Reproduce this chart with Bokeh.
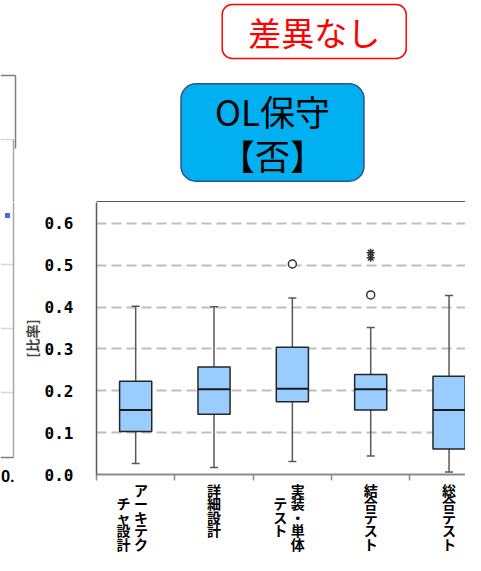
from bokeh.plotting import figure
from bokeh.models import (ColumnDataSource, FixedTicker, Range1d, Label,
                          LinearAxis, PrintfTickFormatter)
from bokeh.layouts import column, row
from bokeh.transform import dodge
from bokeh.embed import file_html
from bokeh.resources import INLINE

# ---------------- data ----------------
categories = ["アーキテクチャ設計", "詳細設計", "実装・単体テスト", "結合テスト", "総合テスト"]
# category labels laid out vertically (tategaki), rows top -> bottom
tick_labels = [
    "　   ア\nチ   ー\nャ   キ\n設   テ\n計   ク",
    "詳\n細\n設\n計",
    "　   実\nテ   装\nス   ・\nト   単\n　   体",
    "結\n合\nテ\nス\nト",
    "総\n合\nテ\nス\nト",
]
lower = [0.026, 0.017, 0.031, 0.044, 0.006]
q1 = [0.103, 0.144, 0.174, 0.154, 0.061]
median = [0.154, 0.204, 0.205, 0.204, 0.154]
q3 = [0.223, 0.257, 0.304, 0.239, 0.235]
upper = [0.402, 0.401, 0.422, 0.351, 0.428]

circle_cat = [2, 3]
circle_val = [0.503, 0.429]
star_cat = [3, 3]
star_val = [0.518, 0.530]

y_ticks = [0.0, 0.1, 0.2, 0.3, 0.4, 0.5, 0.6]
y_label = "[比率]"
badge_text = "差異なし"
group_text = "OL保守\n【否】"
neighbour_tick = "0."

# ---------------- top band (badges) ----------------
top_fig = figure(width=465, height=202, x_range=Range1d(0, 465), y_range=Range1d(202, 0),
                 x_axis_type=None, y_axis_type=None, output_backend="svg",
                 toolbar_location=None, min_border=0)
top_fig.outline_line_color = None
top_fig.grid.visible = False

# neighbouring chart fragment (left edge)
top_fig.segment(x0=[0, 15, 0, 13], y0=[75, 75, 139, 139], x1=[15, 15, 13, 13], y1=[75, 148, 139, 202],
                line_color=["#7f7f7f", "#7f7f7f", "#d9d9d9", "#a6a6a6"], line_width=1.5)
# top edge of the box-plot frame
top_fig.segment(x0=[96], y0=[201.2], x1=[465], y1=[201.2], line_color="#595959", line_width=1.5)

for lbl in [
    Label(x=316.5, y=35, text=badge_text, text_font="Noto Sans CJK JP", text_font_size="33px",
          text_alpha=0.0, text_align="center", text_baseline="middle",
          background_fill_color="#000000", background_fill_alpha=0.12,
          border_radius=10, padding=(26, 3)),
    Label(x=313.7, y=31, text=badge_text, text_font="Noto Sans CJK JP", text_font_size="33px",
          text_color="#ff0000", text_align="center", text_baseline="middle",
          background_fill_color="white", border_line_color="#ff0000",
          border_line_width=1.5, border_radius=10, padding=(26, 3)),
    Label(x=275, y=136, text=group_text, text_font="Noto Sans CJK JP", text_font_size="35px",
          text_alpha=0.0, text_align="center", text_baseline="middle", text_line_height=0.87,
          background_fill_color="#000000", background_fill_alpha=0.2,
          border_radius=15, padding=(34, 1)),
    Label(x=272, y=132, text=group_text, text_font="Noto Sans CJK JP", text_font_size="35px",
          text_color="black", text_align="center", text_baseline="middle", text_line_height=0.87,
          background_fill_color="#00b0f0", border_line_color="#2f528f",
          border_line_width=1.5, border_radius=15, padding=(34, 1)),
]:
    top_fig.add_layout(lbl)

# ---------------- left sliver (neighbouring chart) ----------------
left_fig = figure(width=16, height=353, x_range=Range1d(0, 16), y_range=Range1d(474, 202),
                  x_axis_type=None, y_axis_type=None, output_backend="svg",
                  toolbar_location=None, min_border_left=0, min_border_right=0,
                  min_border_top=0, min_border_bottom=81)
left_fig.outline_line_color = None
left_fig.grid.visible = False
left_fig.segment(x0=[0, 0, 0], y0=[264, 328, 392], x1=[13, 13, 13], y1=[264, 328, 392],
                 line_color="#d9d9d9", line_width=1.5)
left_fig.segment(x0=[13, 0], y0=[202, 457], x1=[13, 13], y1=[457, 457],
                 line_color=["#a6a6a6", "#808080"], line_width=1.5)
left_fig.scatter(x=[7], y=[215], marker="square", size=5, fill_color="#4472c4", line_color=None)
nax = LinearAxis(ticker=FixedTicker(ticks=[6.5]), major_label_overrides={6.5: neighbour_tick})
nax.axis_line_color = None
nax.major_tick_line_color = None
nax.minor_tick_line_color = None
nax.major_tick_in = 0
nax.major_tick_out = 0
nax.major_label_standoff = -5
nax.major_label_text_font = "Roboto"
nax.major_label_text_font_style = "bold"
nax.major_label_text_font_size = "16px"
nax.major_label_text_color = "black"
left_fig.add_layout(nax, "below")

# ---------------- main box plot ----------------
xs = [i + 0.5 for i in range(len(categories))]
src = ColumnDataSource(dict(x=xs, lower=lower, q1=q1, med=median, q3=q3, upper=upper))
csrc = ColumnDataSource(dict(x=[c + 0.5 for c in circle_cat], y=circle_val))
ssrc = ColumnDataSource(dict(x=[c + 0.5 for c in star_cat], y=star_val))

p = figure(width=449, height=353, x_range=Range1d(0, 4.71), y_range=Range1d(0, 0.65),
           output_backend="svg", toolbar_location=None,
           min_border_left=80, min_border_right=0, min_border_top=0, min_border_bottom=81)
p.outline_line_color = None

# y axis
p.yaxis.ticker = FixedTicker(ticks=y_ticks)
p.yaxis.formatter = PrintfTickFormatter(format="%.1f")
p.yaxis.major_tick_in = 0
p.yaxis.major_tick_out = 0
p.yaxis.minor_tick_line_color = None
p.yaxis.major_label_standoff = 23
p.yaxis.major_label_text_font = "DejaVu Sans Mono"
p.yaxis.major_label_text_font_style = "bold"
p.yaxis.major_label_text_font_size = "16px"
p.yaxis.major_label_text_color = "black"
p.yaxis.axis_line_color = "#595959"
p.yaxis.axis_line_width = 1.5
p.yaxis.axis_label = y_label
p.yaxis.axis_label_text_font = "Noto Sans CJK JP"
p.yaxis.axis_label_text_font_style = "bold"
p.yaxis.axis_label_text_font_size = "14px"
p.yaxis.axis_label_standoff = 0

# x axis
p.xaxis.ticker = FixedTicker(ticks=xs, minor_ticks=[0, 1, 2, 3, 4])
p.xaxis.major_label_overrides = {x: t for x, t in zip(xs, tick_labels)}
p.xaxis.major_tick_line_color = None
p.xaxis.major_tick_in = 0
p.xaxis.major_tick_out = 0
p.xaxis.minor_tick_line_color = "#8c8c8c"
p.xaxis.minor_tick_in = 0
p.xaxis.minor_tick_out = 6
p.xaxis.minor_tick_line_width = 1.5
p.xaxis.axis_line_color = "#8c8c8c"
p.xaxis.axis_line_width = 2
p.xaxis.major_label_standoff = 1
p.xaxis.major_label_text_font = "Lato, Noto Sans CJK JP"
p.xaxis.major_label_text_font_style = "bold"
p.xaxis.major_label_text_font_size = "14px"
p.xaxis.major_label_text_line_height = 0.80
p.xaxis.major_label_text_color = "black"

# grid
p.xgrid.visible = False
p.ygrid.ticker = FixedTicker(ticks=y_ticks)
p.ygrid.grid_line_color = "#bfbfbf"
p.ygrid.grid_line_width = 2
p.ygrid.grid_line_dash = "10 5"

wcol = "#595959"
p.segment(x0="x", y0="q3", x1="x", y1="upper", source=src, line_color=wcol, line_width=1.5)
p.segment(x0="x", y0="q1", x1="x", y1="lower", source=src, line_color=wcol, line_width=1.5)
p.scatter(x="x", y="upper", source=src, marker="dash", size=8, line_color=wcol, line_width=1.5)
p.scatter(x="x", y="lower", source=src, marker="dash", size=8, line_color=wcol, line_width=1.5)
p.vbar(x="x", width=0.41, bottom="q1", top="q3", source=src,
       fill_color="#99ccff", line_color="#262626", line_width=1.5)
p.segment(x0=dodge("x", -0.205, range=p.x_range), y0="med",
          x1=dodge("x", 0.205, range=p.x_range), y1="med",
          source=src, line_color="#1a1a1a", line_width=2)
p.scatter(x="x", y="y", source=csrc, marker="circle", size=8,
          fill_color="white", line_color="#333333", line_width=1.5)
p.scatter(x="x", y="y", source=ssrc, marker="asterisk", size=8,
          line_color="#333333", line_width=1.5)

layout = column(top_fig, row(left_fig, p))
open("out.html", "w").write(file_html(layout, INLINE))
